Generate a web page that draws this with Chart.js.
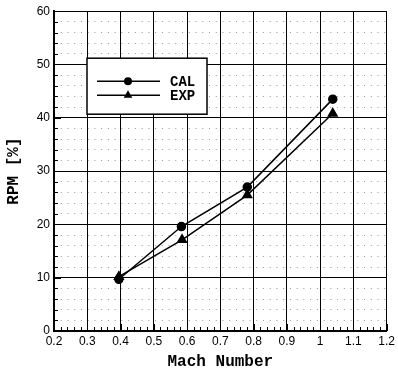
<!DOCTYPE html>
<html>
<head>
<script src="https://cdn.jsdelivr.net/npm/chart.js"></script>
<style>body{margin:0;background:#fff}</style>
</head>
<body>
<canvas id="myChart" width="398" height="370"></canvas>
<script>
// values
const calMach = [0.395, 0.583, 0.781, 1.038];
const calRpm = [9.7, 19.6, 27.0, 43.5];
const expMach = [0.395, 0.585, 0.781, 1.038];
const expRpm = [10.2, 17.1, 25.5, 40.8];
const seriesNames = ['CAL', 'EXP'];
const xTitle = 'Mach Number';
const yTitle = 'RPM [%]';

const toPoints = (xs, ys) => xs.map((x, i) => ({ x: x, y: ys[i] }));

// inward tick marks + boxed legend inside the plot
const extras = {
  id: 'extras',
  afterDatasetsDraw(chart) {
    const ctx = chart.ctx;
    const a = chart.chartArea;
    const xs = chart.scales.x, ys = chart.scales.y;
    ctx.save();
    ctx.strokeStyle = '#000';
    ctx.lineWidth = 1;
    ctx.beginPath();
    for (let i = 0; i <= 50; i++) {
      const px = Math.round(xs.getPixelForValue(0.2 + i * 0.02)) + 0.5;
      const len = i % 5 === 0 ? 7 : 4;
      ctx.moveTo(px, a.bottom);
      ctx.lineTo(px, a.bottom - len);
    }
    for (let i = 0; i <= 30; i++) {
      const py = Math.round(ys.getPixelForValue(i * 2)) + 0.5;
      const len = i % 5 === 0 ? 7 : 4;
      ctx.moveTo(a.left, py);
      ctx.lineTo(a.left + len, py);
    }
    ctx.stroke();

    // legend box
    const bx = a.left + 33, by = a.top + 47, bw = 120, bh = 56;
    ctx.fillStyle = '#fff';
    ctx.fillRect(bx, by, bw, bh);
    ctx.lineWidth = 1.5;
    ctx.strokeRect(bx, by, bw, bh);
    chart.data.datasets.forEach((ds, i) => {
      const ly = by + 23 + i * 14;
      ctx.lineWidth = 1.5;
      ctx.strokeStyle = '#000';
      ctx.beginPath();
      ctx.moveTo(bx + 10, ly);
      ctx.lineTo(bx + 73, ly);
      ctx.stroke();
      ctx.fillStyle = '#000';
      Chart.helpers.drawPoint(ctx, {
        pointStyle: ds.pointStyle, radius: ds.pointRadius, rotation: 0, borderWidth: 0
      }, bx + 41, ly);
      ctx.font = 'bold 14px "Liberation Mono"';
      ctx.textBaseline = 'middle';
      ctx.textAlign = 'left';
      ctx.fillText(ds.label, bx + 83, ly + 1);
    });
    ctx.restore();
  }
};

const tickFont = { family: '"Liberation Sans"', size: 12 };
const titleFont = { family: '"Liberation Mono"', size: 16, weight: 'bold' };

new Chart(document.getElementById('myChart'), {
  type: 'line',
  data: {
    datasets: [{
      label: seriesNames[0],
      data: toPoints(calMach, calRpm),
      borderColor: '#000',
      backgroundColor: '#000',
      borderWidth: 1.5,
      pointStyle: 'circle',
      pointRadius: 4,
      tension: 0
    }, {
      label: seriesNames[1],
      data: toPoints(expMach, expRpm),
      borderColor: '#000',
      backgroundColor: '#000',
      borderWidth: 1.5,
      pointStyle: 'triangle',
      pointRadius: 5,
      tension: 0
    }]
  },
  options: {
    responsive: false,
    animation: false,
    layout: { padding: { left: 0, right: 7, top: 10, bottom: 0 } },
    plugins: { legend: { display: false }, tooltip: { enabled: false } },
    scales: {
      x: {
        type: 'linear',
        min: 0.2,
        max: 1.2,
        afterFit: s => { s.height = 39; },
        ticks: {
          stepSize: 0.1,
          padding: 3,
          color: '#000',
          font: tickFont,
          callback: v => String(Number(v.toFixed(1)))
        },
        grid: { color: '#000', lineWidth: 1, drawTicks: false },
        border: { color: '#000', width: 2 },
        title: { display: true, text: xTitle, color: '#000', font: titleFont, padding: { top: 0, bottom: -2 } }
      },
      y: {
        type: 'linear',
        min: 0,
        max: 60,
        afterFit: s => { s.width = 54; },
        ticks: { stepSize: 10, padding: 4, color: '#000', font: tickFont },
        grid: { color: '#000', lineWidth: 1, drawTicks: false },
        border: { color: '#000', width: 2 },
        title: { display: true, text: yTitle, color: '#000', font: titleFont, padding: { top: 4, bottom: 0 } }
      },
      yMinor: {
        type: 'linear',
        position: 'left',
        min: 0,
        max: 60,
        afterFit: s => { s.width = 0; },
        ticks: { display: false, stepSize: 2 },
        grid: { color: '#999', lineWidth: 1, drawTicks: false, z: -2 },
        border: { display: false, dash: [1, 5.74] }
      }
    }
  },
  plugins: [extras]
});
</script>
</body>
</html>
